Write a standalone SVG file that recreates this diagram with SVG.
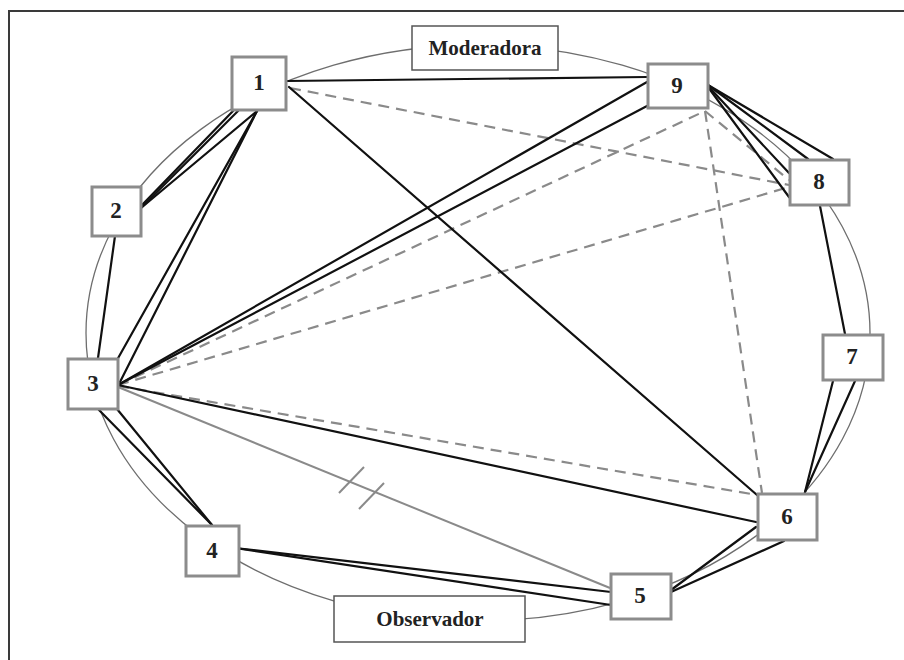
<svg xmlns="http://www.w3.org/2000/svg" width="904" height="660" viewBox="0 0 904 660">
<style>
.frame{fill:none;stroke:#3a3a3a;stroke-width:2}
.ring{fill:none;stroke:#6e6e6e;stroke-width:1.3}
.s{stroke:#111;stroke-width:2.2;fill:none;stroke-linecap:round}
.d{stroke:#8a8a8a;stroke-width:2.2;fill:none;stroke-dasharray:11 7}
.g{stroke:#8a8a8a;stroke-width:2;fill:none}
.n rect{fill:#fff;stroke:#8c8c8c;stroke-width:3}
.lb rect{fill:#fff;stroke:#555;stroke-width:1.5}
text{font-family:"Liberation Serif","DejaVu Serif",serif;font-weight:bold;fill:#222;text-anchor:middle;dominant-baseline:central}
.n text{font-size:23px}
.lb text{font-size:21px}
</style>
<rect x="0" y="0" width="904" height="660" fill="#fff"/>
<rect class="frame" x="9" y="11" width="920" height="680"/>
<ellipse class="ring" cx="478" cy="333" rx="392" ry="288"/>
<g id="connectors">
<line class="d" x1="290" y1="88" x2="789" y2="185"/>
<line class="d" x1="118" y1="385" x2="789" y2="187"/>
<line class="d" x1="118" y1="385" x2="705" y2="111"/>
<line class="d" x1="118" y1="386" x2="757" y2="495"/>
<line class="d" x1="705" y1="111" x2="762" y2="493"/>
<line class="d" x1="705" y1="111" x2="789" y2="180"/>
<line class="g" x1="118" y1="387" x2="610" y2="588"/>
<line class="g" x1="339" y1="493" x2="364" y2="467"/>
<line class="g" x1="359" y1="509" x2="384" y2="483"/>
<line class="s" x1="287" y1="81" x2="647" y2="77"/>
<line class="s" x1="289" y1="87" x2="757" y2="495"/>
<line class="s" x1="233" y1="111" x2="141" y2="206"/>
<line class="s" x1="238" y1="111" x2="141" y2="208"/>
<line class="s" x1="257" y1="111" x2="141" y2="208"/>
<line class="s" x1="257" y1="111" x2="117" y2="360"/>
<line class="s" x1="257" y1="111" x2="120" y2="382"/>
<line class="s" x1="115" y1="236" x2="98" y2="358"/>
<line class="s" x1="118" y1="385" x2="647" y2="82"/>
<line class="s" x1="118" y1="385" x2="647" y2="106"/>
<line class="s" x1="118" y1="385" x2="756" y2="522"/>
<line class="s" x1="99" y1="410" x2="212" y2="525"/>
<line class="s" x1="117" y1="409" x2="212" y2="525"/>
<line class="s" x1="235" y1="548" x2="611" y2="592"/>
<line class="s" x1="235" y1="548" x2="611" y2="605"/>
<line class="s" x1="671" y1="590" x2="756" y2="527"/>
<line class="s" x1="671" y1="592" x2="784" y2="541"/>
<line class="s" x1="805" y1="492" x2="833" y2="381"/>
<line class="s" x1="805" y1="492" x2="855" y2="381"/>
<line class="s" x1="845" y1="334" x2="820" y2="206"/>
<line class="s" x1="708" y1="85" x2="833" y2="159"/>
<line class="s" x1="708" y1="85" x2="808" y2="159"/>
<line class="s" x1="708" y1="86" x2="789" y2="173"/>
<line class="s" x1="708" y1="87" x2="789" y2="197"/>
</g>
<g id="moderadora" class="lb"><rect x="412" y="26" width="146" height="44"/><text x="485" y="48">Moderadora</text></g>
<g id="observador" class="lb"><rect x="334" y="596" width="191" height="46"/><text x="430" y="619">Observador</text></g>
<g id="n1" class="n"><rect x="232" y="57" width="54" height="53"/><text x="259" y="82">1</text></g>
<g id="n2" class="n"><rect x="92" y="187" width="49" height="49"/><text x="116" y="210">2</text></g>
<g id="n3" class="n"><rect x="68" y="359" width="50" height="50"/><text x="93" y="383">3</text></g>
<g id="n4" class="n"><rect x="186" y="526" width="53" height="50"/><text x="212" y="550">4</text></g>
<g id="n5" class="n"><rect x="611" y="574" width="60" height="45"/><text x="640" y="595">5</text></g>
<g id="n6" class="n"><rect x="758" y="494" width="59" height="46"/><text x="787" y="516">6</text></g>
<g id="n7" class="n"><rect x="823" y="335" width="60" height="45"/><text x="852" y="356">7</text></g>
<g id="n8" class="n"><rect x="790" y="160" width="59" height="45"/><text x="819" y="181">8</text></g>
<g id="n9" class="n"><rect x="648" y="64" width="60" height="44"/><text x="677" y="85">9</text></g>
</svg>
